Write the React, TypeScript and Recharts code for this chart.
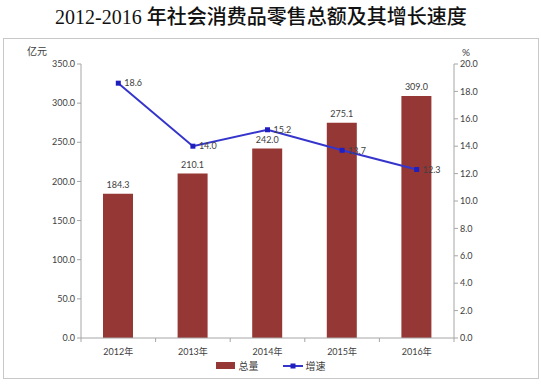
import React from 'react';
import { ComposedChart, Bar, Line, XAxis, YAxis, LabelList, Legend } from 'recharts';

const years = ['2012年', '2013年', '2014年', '2015年', '2016年'];
const totals = [184.3, 210.1, 242.0, 275.1, 309.0];
const growth = [18.6, 14.0, 15.2, 13.7, 12.3];
const leftTicks = [0, 50, 100, 150, 200, 250, 300, 350];
const rightTicks = [0, 2, 4, 6, 8, 10, 12, 14, 16, 18, 20];

const data = years.map((y, i) => ({ year: y, total: totals[i], growth: growth[i] }));

const BAR_COLOR = '#953735';
const LINE_COLOR = '#3535CC';
const DOT_COLOR = '#1F1FBF';
const AXIS_COLOR = '#A6A6A6';
const TEXT_COLOR = '#404040';
const FONT = "Lato, 'Noto Sans CJK SC', sans-serif";

const XTick = (props: any) => {
  const { x, y, payload, index, visibleTicksCount, width } = props;
  const bw = (width || 373) / (visibleTicksCount || 5);
  const left = x - bw / 2;
  return (
    <g>
      <line x1={left} y1={y} x2={left} y2={y + 4} stroke={AXIS_COLOR} />
      {index === visibleTicksCount - 1 && (
        <line x1={x + bw / 2} y1={y} x2={x + bw / 2} y2={y + 4} stroke={AXIS_COLOR} />
      )}
      <text x={x} y={y + 17} textAnchor="middle" fontSize={9} fill={TEXT_COLOR} fontFamily={FONT}>
        {payload.value}
      </text>
    </g>
  );
};

const SquareDot = (props: any) => {
  const { cx, cy, index } = props;
  if (cx == null || cy == null) return <g key={index} />;
  return <rect key={index} x={cx - 2.5} y={cy - 2.5} width={5} height={5} fill={DOT_COLOR} />;
};

const LegendContent = () => (
  <div style={{ display: 'flex', justifyContent: 'center', alignItems: 'center', fontFamily: FONT, fontSize: 10, color: TEXT_COLOR }}>
    <svg width={20} height={8} style={{ marginRight: 3 }}>
      <rect x={0} y={0} width={19} height={7} fill={BAR_COLOR} />
    </svg>
    <span style={{ marginRight: 24 }}>总量</span>
    <svg width={20} height={8} style={{ marginRight: 3 }}>
      <line x1={0} y1={4} x2={20} y2={4} stroke={LINE_COLOR} strokeWidth={2} />
      <rect x={7.5} y={1.5} width={5} height={5} fill={DOT_COLOR} />
    </svg>
    <span>增速</span>
  </div>
);

export default function App() {
  return (
    <div style={{ position: 'absolute', left: 0, top: 0, width: 541, height: 386, background: '#fff' }}>
      <div
        style={{
          position: 'absolute',
          left: 55,
          top: 3,
          whiteSpace: 'nowrap',
          color: '#111',
          lineHeight: '26px',
        }}
      >
        <span style={{ fontFamily: "'Liberation Serif', serif", fontSize: 20 }}>2012-2016 </span>
        <span style={{ fontFamily: "'Noto Sans CJK SC', sans-serif", fontSize: 20, fontWeight: 500 }}>
          年社会消费品零售总额及其增长速度
        </span>
      </div>
      <div
        style={{
          position: 'absolute',
          left: 3,
          top: 38,
          width: 534,
          height: 339,
          border: '1px solid #C8C8C8',
        }}
      />
      <div style={{ position: 'absolute', left: 27, top: 43, fontFamily: FONT, fontSize: 10, color: TEXT_COLOR }}>亿元</div>
      <div style={{ position: 'absolute', left: 462, top: 46, fontFamily: FONT, fontSize: 10, color: TEXT_COLOR }}>%</div>
      <div style={{ position: 'absolute', left: 0, top: 0 }}>
        <ComposedChart
          width={541}
          height={386}
          data={data}
          margin={{ top: 64, right: 0, bottom: 0, left: 0 }}
          barCategoryGap="30%"
        >
          <XAxis
            dataKey="year"
            height={48}
            tickLine={false}
            tickSize={0}
            tickMargin={0}
            stroke={AXIS_COLOR}
            tick={<XTick />}
            interval={0}
          />
          <YAxis
            yAxisId="left"
            orientation="left"
            width={81}
            domain={[0, 350]}
            ticks={leftTicks}
            tickFormatter={(v: number) => v.toFixed(1)}
            tickSize={4}
            tickMargin={2}
            stroke={AXIS_COLOR}
            tick={{ fontSize: 9, fill: TEXT_COLOR, fontFamily: FONT }}
          />
          <YAxis
            yAxisId="right"
            orientation="right"
            width={87}
            domain={[0, 20]}
            ticks={rightTicks}
            tickFormatter={(v: number) => v.toFixed(1)}
            tickSize={4}
            tickMargin={2}
            stroke={AXIS_COLOR}
            tick={{ fontSize: 9, fill: TEXT_COLOR, fontFamily: FONT }}
          />
          <Legend
            layout="horizontal"
            verticalAlign="middle"
            align="center"
            wrapperStyle={{ top: 358, left: 0, width: 541 }}
            content={<LegendContent />}
          />
          <Bar yAxisId="left" dataKey="total" name="总量" fill={BAR_COLOR} barSize={30} isAnimationActive={false}>
            <LabelList
              dataKey="total"
              position="top"
              offset={6}
              formatter={(v: any) => Number(v).toFixed(1)}
              style={{ fontSize: 9, fill: TEXT_COLOR, fontFamily: FONT }}
            />
          </Bar>
          <Line
            yAxisId="right"
            dataKey="growth"
            name="增速"
            stroke={LINE_COLOR}
            strokeWidth={2}
            dot={<SquareDot />}
            activeDot={false}
            isAnimationActive={false}
          >
            <LabelList
              dataKey="growth"
              position="right"
              offset={6}
              formatter={(v: any) => Number(v).toFixed(1)}
              style={{ fontSize: 9, fill: TEXT_COLOR, fontFamily: FONT }}
            />
          </Line>
        </ComposedChart>
      </div>
    </div>
  );
}
